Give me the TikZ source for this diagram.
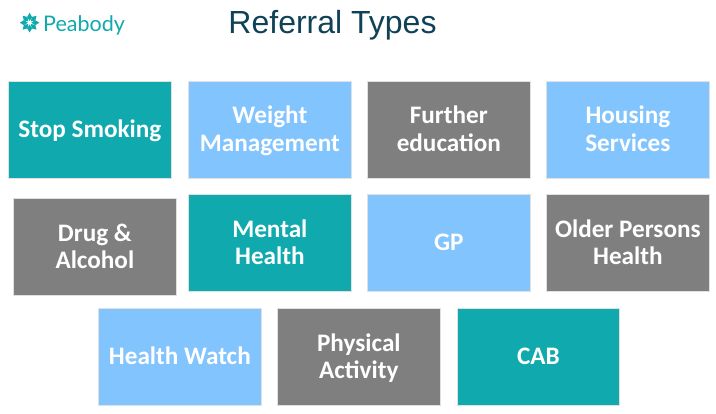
\documentclass[tikz,border=0pt]{standalone}
\usepackage{fontspec}
\setmainfont{Carlito}
\newfontfamily\titlefont{Liberation Sans}
\newfontfamily\logofont{Lato}
\definecolor{tealbox}{HTML}{0FA9AE}
\definecolor{bluebox}{HTML}{82C4FD}
\definecolor{greybox}{HTML}{7F7F7F}
\definecolor{titlecol}{HTML}{0F4257}
\newcommand{\topst}{\rule{0pt}{24.25pt}}
\tikzset{x=1pt,y=-1pt,
 card/.style={minimum width=162.3pt,minimum height=97pt,inner sep=0pt,draw=black!12,line width=0.5pt,text=white,align=center,
   font=\fontsize{25.2}{27.5}\selectfont\bfseries},
 tealcard/.style={card,fill=tealbox},
 bluecard/.style={card,fill=bluebox},
 greycard/.style={card,fill=greybox},
 petal/.style={fill=tealbox,draw=none}}
\begin{document}
\begin{tikzpicture}
\useasboundingbox (0,0) rectangle (716,414);
\node[tealcard] (stop) at (89.85,129.5) {\topst Stop Smoking\strut};
\node[bluecard] (weight) at (269.85,129.5) {\topst Weight\\Management\strut};
\node[greycard] (further) at (448.85,129.5) {\topst Further\\education\strut};
\node[bluecard] (housing) at (627.85,129.5) {\topst Housing\\Services\strut};
\node[greycard] (drug) at (94.85,247) {\topst Drug \&\\Alcohol\strut};
\node[tealcard] (mental) at (269.85,243) {\topst Mental\\Health\strut};
\node[bluecard] (gp) at (448.85,243) {\topst GP\strut};
\node[greycard] (older) at (627.85,243) {\topst Older Persons\\Health\strut};
\node[bluecard] (watch) at (179.85,357) {\topst Health Watch\strut};
\node[greycard] (physical) at (358.85,357) {\topst Physical\\Activity\strut};
\node[tealcard] (cab) at (538.5,357) {\topst CAB\strut};
\node[text=titlecol,font=\titlefont\fontsize{32}{36}\selectfont,inner sep=0pt] (title) at (332.5,25.5) {Referral Types};
\node[text=tealbox,font=\logofont\fontsize{21.5}{24}\selectfont,inner sep=0pt,anchor=west] (logo) at (43,25) {Peabody};
\foreach \a in {0,45,...,315}{
  \fill[petal,shift={(29.6,22.7)},rotate=\a] (1.8,0) -- (5.6,-2.5) -- (9.8,0) -- (5.6,2.5) -- cycle;
}
\end{tikzpicture}
\end{document}
